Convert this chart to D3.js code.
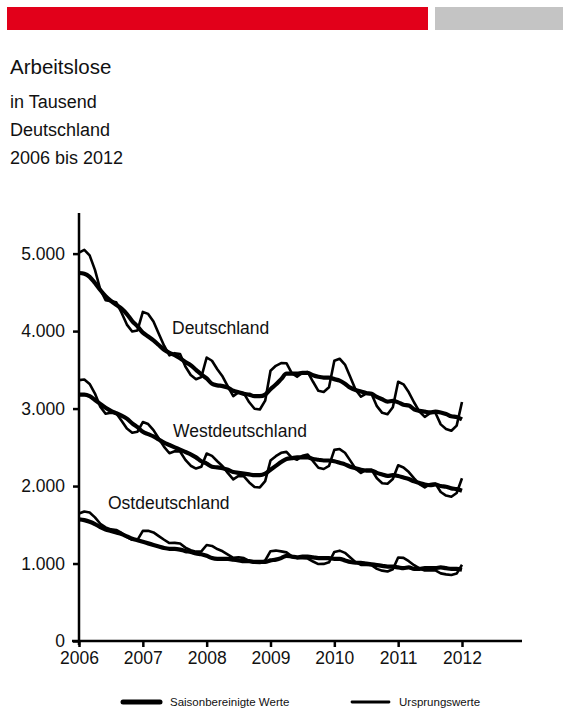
<!DOCTYPE html>
<html>
<head>
<meta charset="utf-8">
<script src="https://cdn.jsdelivr.net/npm/d3@7"></script>
<style>
  body { margin: 0; background: #fff; }
  svg { display: block; font-family: "Liberation Sans", Arial, sans-serif; }
</style>
</head>
<body>
<div id="root"></div>
<script>
// Monatswerte Januar 2006 bis Januar 2012, in Tausend
const years = [2006, 2007, 2008, 2009, 2010, 2011, 2012];
const yTicks = [0, 1000, 2000, 3000, 4000, 5000];

const deOrig = [
  5012, 5048, 4977, 4790, 4537, 4399, 4386, 4372, 4237, 4084, 3995, 4008,
  4247, 4222, 4124, 3967, 3812, 3687, 3715, 3705, 3543, 3434, 3379, 3406,
  3659, 3617, 3507, 3413, 3283, 3160, 3210, 3196, 3081, 2997, 2988, 3102,
  3489, 3552, 3586, 3585, 3458, 3410, 3462, 3471, 3346, 3229, 3215, 3276,
  3617, 3643, 3568, 3406, 3242, 3153, 3192, 3188, 3031, 2945, 2927, 3016,
  3346, 3313, 3210, 3078, 2960, 2893, 2939, 2945, 2796, 2737, 2713, 2780,
  3084
];
const deSaison = [
  4750, 4740, 4700, 4620, 4530, 4450, 4390, 4340, 4290, 4220, 4130, 4060,
  3980, 3930, 3880, 3820, 3760, 3720, 3690, 3650, 3600, 3560, 3500, 3440,
  3390, 3320, 3300, 3290, 3270, 3230, 3210, 3190, 3180, 3160, 3160, 3180,
  3250, 3310, 3380, 3450, 3450, 3450, 3460, 3460, 3430, 3410, 3400, 3400,
  3380, 3360, 3320, 3270, 3240, 3220, 3200, 3190, 3150, 3120, 3090, 3100,
  3080, 3050, 3040, 2990, 2970, 2960, 2950, 2960, 2950, 2930, 2900, 2890,
  2860
];
const westOrig = [
  3367, 3376, 3318, 3194, 3024, 2933, 2945, 2939, 2843, 2742, 2689, 2702,
  2826, 2800, 2722, 2613, 2505, 2423, 2449, 2446, 2338, 2262, 2226, 2249,
  2420, 2390, 2320, 2255, 2167, 2087, 2130, 2126, 2047, 1987, 1982, 2063,
  2330, 2385, 2429, 2441, 2366, 2340, 2392, 2407, 2320, 2236, 2220, 2260,
  2467, 2477, 2430, 2328, 2224, 2170, 2210, 2210, 2100, 2037, 2030, 2090,
  2268, 2240, 2180, 2100, 2024, 1983, 2026, 2033, 1923, 1877, 1862, 1910,
  2100
];
const westSaison = [
  3180, 3180, 3160, 3110, 3060, 3010, 2970, 2940, 2910, 2870, 2810, 2760,
  2700, 2670, 2640, 2600, 2560, 2530, 2500, 2470, 2440, 2410, 2370, 2320,
  2290, 2250, 2240, 2230, 2210, 2180, 2170, 2160, 2150, 2140, 2140, 2160,
  2210, 2260, 2310, 2350, 2360, 2370, 2370, 2370, 2350, 2340, 2330, 2330,
  2320, 2300, 2280, 2250, 2230, 2210, 2200, 2200, 2170, 2150, 2130, 2140,
  2130, 2110, 2090, 2060, 2040, 2020, 2010, 2020, 2000, 1990, 1970, 1960,
  1940
];
const ostOrig = [
  1645, 1672, 1659, 1596, 1513, 1466, 1441, 1433, 1394, 1342, 1306, 1306,
  1421, 1422, 1402, 1354, 1307, 1264, 1266, 1259, 1205, 1172, 1153, 1157,
  1239, 1227, 1187, 1158, 1116, 1073, 1080, 1070, 1034, 1010, 1006, 1039,
  1159, 1167, 1157, 1144, 1092, 1070, 1070, 1064, 1026, 993, 995, 1016,
  1150, 1166, 1138, 1078, 1018, 983, 982, 978, 931, 908, 897, 926,
  1078, 1073, 1030, 978, 936, 910, 913, 912, 873, 860, 851, 870,
  984
];
const ostSaison = [
  1570, 1560, 1540, 1510, 1470, 1440, 1420, 1400, 1380, 1350, 1320, 1300,
  1280, 1260, 1240, 1220, 1200, 1190, 1190, 1180, 1160, 1150, 1130, 1120,
  1100, 1070, 1060, 1060, 1060, 1050, 1040, 1030, 1030, 1020, 1020, 1020,
  1040, 1050, 1070, 1100, 1090, 1080, 1090, 1090, 1080, 1070, 1070, 1070,
  1060, 1060, 1040, 1020, 1010, 1010, 1000, 990, 980, 970, 960, 960,
  950, 940, 950, 930, 930, 940, 940, 940, 950, 940, 930, 930,
  920
];
const seriesNames = ["Deutschland", "Westdeutschland", "Ostdeutschland"];
const legendNames = ["Saisonbereinigte  Werte", "Ursprungswerte"];

const W = 563, H = 709;
const svg = d3.select("#root").append("svg")
  .attr("width", W).attr("height", H);

// Kopfbalken
svg.append("rect").attr("x", 7).attr("y", 7).attr("width", 421).attr("height", 23).attr("fill", "#e2001a");
svg.append("rect").attr("x", 435).attr("y", 7).attr("width", 128).attr("height", 23).attr("fill", "#c4c4c4");

// Titel
svg.append("text").attr("x", 10).attr("y", 74).attr("font-size", 20.5).attr("fill", "#111").text("Arbeitslose");
["in Tausend", "Deutschland", "2006 bis 2012"].forEach((t, i) => {
  svg.append("text").attr("x", 10).attr("y", 108 + i * 28).attr("font-size", 18).attr("fill", "#111").text(t);
});

// Skalen
const x = d3.scaleLinear().domain([2006, 2012.94]).range([79, 522]);
const y = d3.scaleLinear().domain([0, 5550]).range([641, 211]);
const t = i => 2006 + i / 12;

// Achsen
const yAxis = svg.append("g").attr("transform", "translate(79,0)")
  .call(d3.axisLeft(y).tickValues(yTicks).tickSize(6).tickPadding(8)
    .tickFormat(d => d3.format(",")(d).replace(/,/g, ".")));
const xAxis = svg.append("g").attr("transform", "translate(0,641)")
  .call(d3.axisBottom(x).tickValues(years).tickSize(6).tickPadding(5).tickFormat(d3.format("d")));
[yAxis, xAxis].forEach(a => {
  a.select(".domain").attr("stroke", "#000").attr("stroke-width", 2.5);
  a.selectAll(".tick line").attr("stroke", "#000").attr("stroke-width", 2.5);
  a.selectAll(".tick text").attr("font-size", 17.5).attr("fill", "#111")
    .attr("font-family", "Liberation Sans, Arial, sans-serif");
});
xAxis.select(".domain").attr("d", "M72,0H522");
yAxis.select(".domain").attr("d", "M0,213V645");

// Linien
const line = d3.line().x((d, i) => x(t(i))).y(d => y(d)).curve(d3.curveLinear);
const pairs = [[deSaison, deOrig], [westSaison, westOrig], [ostSaison, ostOrig]];
pairs.forEach(([sa, orig]) => {
  svg.append("path").datum(orig).attr("d", line)
    .attr("fill", "none").attr("stroke", "#000").attr("stroke-width", 2.6)
    .attr("stroke-linejoin", "round");
  svg.append("path").datum(sa).attr("d", d3.line().x((d, i) => x(t(i))).y(d => y(d)).curve(d3.curveMonotoneX))
    .attr("fill", "none").attr("stroke", "#000").attr("stroke-width", 4.2)
    .attr("stroke-linejoin", "round");
});

// Beschriftungen der Reihen
const labelPos = [[172, 334], [173, 437], [108, 509]];
seriesNames.forEach((n, i) => {
  svg.append("text").attr("x", labelPos[i][0]).attr("y", labelPos[i][1])
    .attr("font-size", 17.5).attr("fill", "#111").text(n);
});

// Legende
const legend = [[123, 5], [352, 2.8]];
legendNames.forEach((n, i) => {
  const [lx, sw] = legend[i];
  svg.append("line").attr("x1", lx).attr("x2", lx + 37).attr("y1", 702).attr("y2", 702)
    .attr("stroke", "#000").attr("stroke-width", sw).attr("stroke-linecap", "round");
  svg.append("text").attr("x", lx + 47).attr("y", 706).attr("font-size", 11.5)
    .attr("fill", "#111").text(n);
});
</script>
</body>
</html>
